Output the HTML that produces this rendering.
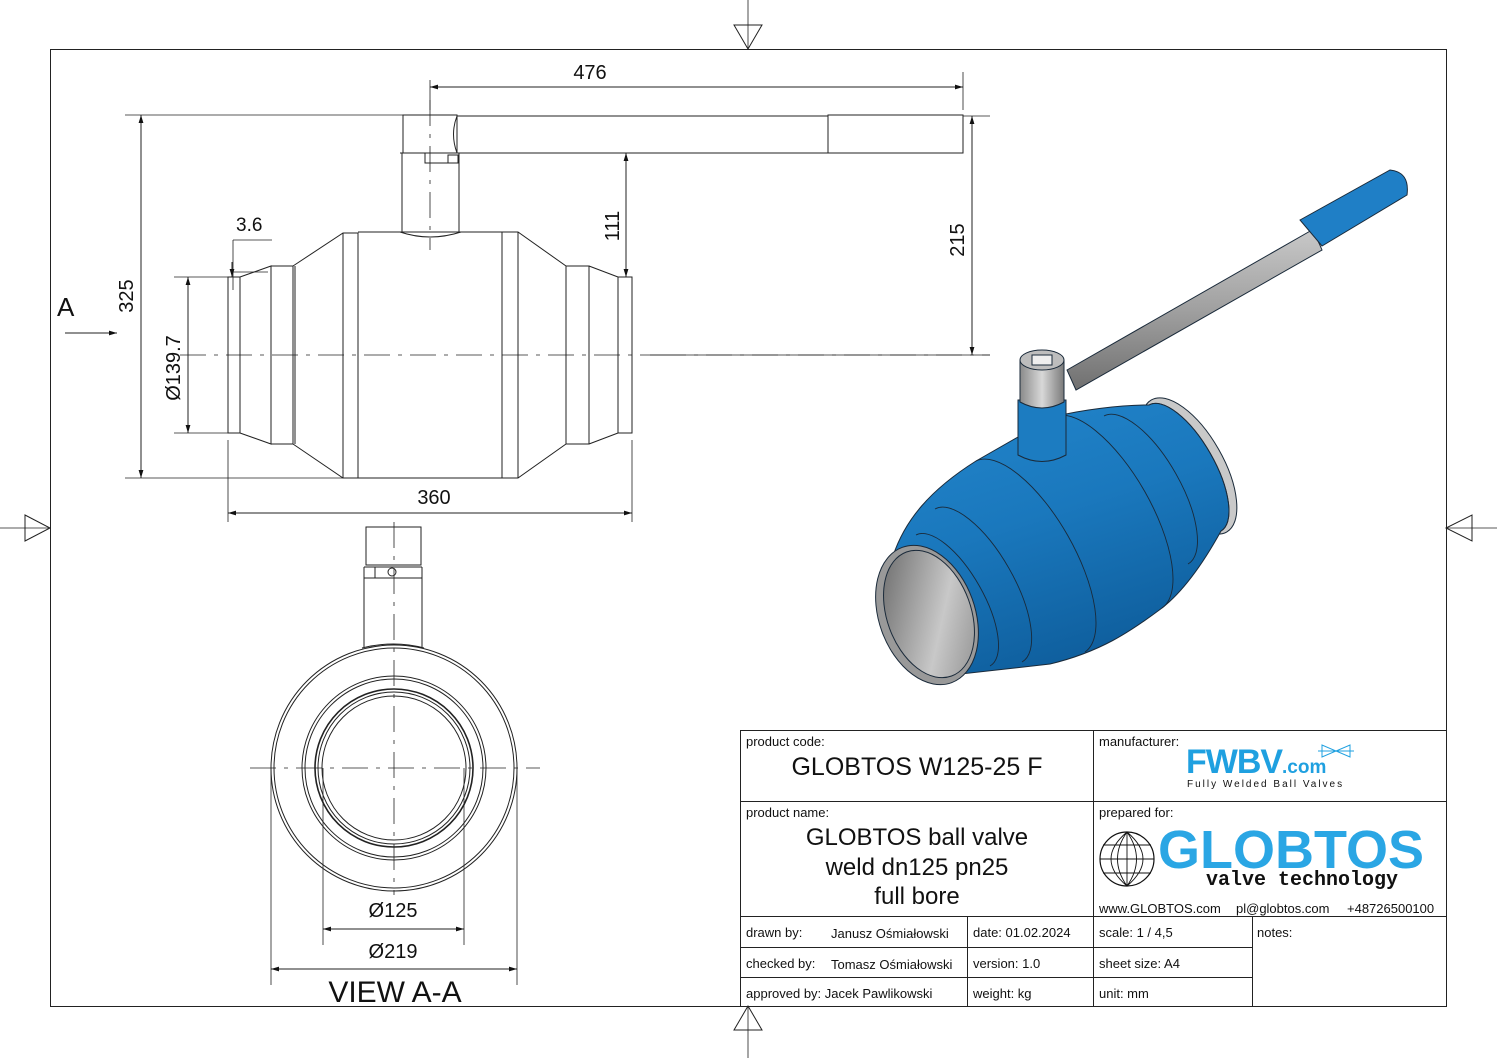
<!DOCTYPE html>
<html><head><meta charset="utf-8"><style>
html,body{margin:0;padding:0;background:#fff}
svg{display:block}
text{font-family:"Liberation Sans",sans-serif;fill:#111}
</style></head><body>
<svg width="1497" height="1058" viewBox="0 0 1497 1058" xmlns="http://www.w3.org/2000/svg">
<defs>
<linearGradient id="bl" x1="0" y1="0" x2="0.4" y2="1"><stop offset="0" stop-color="#2386cc"/><stop offset="0.5" stop-color="#1a78bd"/><stop offset="1" stop-color="#0f5f9e"/></linearGradient>
<linearGradient id="gr" x1="0" y1="0" x2="1" y2="0"><stop offset="0" stop-color="#8a8a8a"/><stop offset="0.5" stop-color="#d8d8d8"/><stop offset="1" stop-color="#7a7a7a"/></linearGradient>
<linearGradient id="gh" x1="0" y1="0" x2="0" y2="1"><stop offset="0" stop-color="#c8c8c8"/><stop offset="0.5" stop-color="#a0a0a0"/><stop offset="1" stop-color="#707070"/></linearGradient>
<linearGradient id="gi" x1="0" y1="0" x2="1" y2="1"><stop offset="0" stop-color="#606060"/><stop offset="0.6" stop-color="#c8c8c8"/><stop offset="1" stop-color="#888"/></linearGradient>
<marker id="a" viewBox="0 0 10 10" refX="10" refY="5" markerWidth="10" markerHeight="8" orient="auto-start-reverse" markerUnits="userSpaceOnUse"><path d="M0,2 L10,5 L0,8 Z" fill="#111"/></marker>
</defs>
<g fill="none" stroke="#222" stroke-width="1">
<rect x="50.5" y="49.5" width="1396" height="957"/>
<path d="M734,25 L762,25 L748,49 Z M734,1030 L762,1030 L748,1006 Z M25,515 L25,541 L50,528 Z M1472,515 L1472,541 L1446,528 Z"/>
<path d="M748,0 V49 M748,1006 V1058 M0,528 H50 M1446,528 H1497" stroke-width="0.8"/>

<path d="M228,277 H240 V433 H228 Z M240,277 L271,266 V444 L240,433 M271,266 H293 V444 H271 M293,266 L343,233 H358 V478 H343 L293,444 M358,232 H502 V478 H358 M502,232 H518 L566,266 V444 L518,478 H502 M518,232 V478 M566,266 H589 V444 H566 M589,266 L618,277 V433 L589,444 M618,277 H632 V433 H618 M343,233 V478 M295,266 V444"/>
<path d="M402,153 V232 M459,153 V232 M400,232 Q430,242 461,232 M400,153 H461 M425,153 V163 H457 M448,155 H458 V163 H448 Z"/>
<path d="M403,115 H457 V153 H403 Z M457,116 H828 M460,153 H828 M828,115 H963 V153 H828 Z M457,116 Q450,134 457,153"/>
<path d="M430,100 V250 M180,355 H660 M660,355 H990" stroke-dasharray="26,8,4,8" stroke-width="0.8"/>
<path d="M430,80 V110 M963,72 V110 M963,116 H990 M650,355 H990 M232,272 H268" stroke-width="0.8"/>
<line x1="430" y1="87" x2="963" y2="87" marker-start="url(#a)" marker-end="url(#a)"/>
<line x1="626" y1="153" x2="626" y2="277" marker-start="url(#a)" marker-end="url(#a)"/>
<path d="M628,153 H642" stroke-width="0.8"/>
<line x1="972" y1="116" x2="972" y2="355" marker-start="url(#a)" marker-end="url(#a)"/>
<path d="M125,115 H403 M125,478 H343" stroke-width="0.8"/>
<line x1="141" y1="115" x2="141" y2="478" marker-start="url(#a)" marker-end="url(#a)"/>
<path d="M174,277 H228 M174,433 H228" stroke-width="0.8"/>
<line x1="188" y1="277" x2="188" y2="433" marker-start="url(#a)" marker-end="url(#a)"/>
<path d="M228,440 V522 M632,440 V522" stroke-width="0.8"/>
<line x1="228" y1="513" x2="632" y2="513" marker-start="url(#a)" marker-end="url(#a)"/>
<path d="M233,240 H272 M233,240 V290" stroke-width="0.8"/>
<line x1="232" y1="262" x2="232" y2="277" marker-end="url(#a)"/>
<line x1="65" y1="333" x2="117" y2="333" marker-end="url(#a)"/>

<circle cx="394" cy="768" r="123"/><circle cx="394" cy="768" r="120"/>
<circle cx="394" cy="768" r="92"/><circle cx="394" cy="768" r="89"/>
<circle cx="394" cy="768" r="79" stroke-width="1.6"/><circle cx="394" cy="768" r="76"/><circle cx="394" cy="768" r="72"/>
<path d="M364,567 V648 M422,567 V648 M362,648 Q394,640 424,648 M366,527 H421 V565 H366 Z M364,567 H422 M375,567 V578 H392 M364,578 H422"/>
<circle cx="392" cy="572" r="4"/>
<path d="M394,522 V895 M250,768 H540" stroke-dasharray="26,8,4,8" stroke-width="0.8"/>
<path d="M323,768 V945 M464,768 V945 M271,768 V985 M517,768 V985" stroke-width="0.8"/>
<line x1="323" y1="929" x2="464" y2="929" marker-start="url(#a)" marker-end="url(#a)"/>
<line x1="271" y1="969" x2="517" y2="969" marker-start="url(#a)" marker-end="url(#a)"/>
</g>
<g font-size="20">
<text x="590" y="79" text-anchor="middle">476</text>
<text x="236" y="231" font-size="19">3.6</text>
<text x="434" y="504" text-anchor="middle">360</text>
<text transform="translate(619,226) rotate(-90)" text-anchor="middle">111</text>
<text transform="translate(964,240) rotate(-90)" text-anchor="middle">215</text>
<text transform="translate(133,296) rotate(-90)" text-anchor="middle">325</text>
<text transform="translate(180,368) rotate(-90)" text-anchor="middle">Ø139.7</text>
<text x="57" y="316" font-size="26">A</text>
<text x="393" y="917" text-anchor="middle">Ø125</text>
<text x="393" y="958" text-anchor="middle">Ø219</text>
<text x="395" y="1002" text-anchor="middle" font-size="30">VIEW A-A</text>
</g>

<g stroke="#1a2a3a" stroke-width="1">
<path d="M1067,370 L1312,230 Q1318,240 1322,250 L1076,390 Z" fill="url(#gh)"/>
<path d="M1300,220 L1390,170 Q1410,172 1407,195 L1322,246 Z" fill="#1f7fc6"/>
<ellipse cx="1189" cy="466" rx="76" ry="34" transform="rotate(60.3 1189 466)" fill="#c9c9c9"/>
<path d="M893,556 C905,520 930,490 976,461 L1053,417 C1080,410 1120,405 1149,405 A72 29 60.3 0 1 1221,531 C1205,560 1185,590 1162,608 C1130,632 1100,652 1050,664 L961,674 Z" fill="url(#bl)"/>
<g fill="none" stroke-width="0.9">
<path d="M1149,405 A72 29 60.3 0 1 1221,531"/>
<path d="M1104,416 A85 34 60.3 0 1 1188,564"/>
<path d="M1053,417 A110 44 60.3 0 1 1162,608"/>
<path d="M976,461 A110 44 60.3 0 1 1085,652"/>
<path d="M935,509 A88 35 60.3 0 1 1022,662"/>
<path d="M916,535 A75 30 60.3 0 1 990,666"/>
</g>
<path d="M1018,400 V455 Q1042,468 1066,455 V400 Z" fill="#1c7cc1"/>
<path d="M1020,360 V402 Q1042,414 1064,402 V360 Z" fill="url(#gr)"/>
<ellipse cx="1042" cy="360" rx="22" ry="10" fill="#bdbdbd"/>
<rect x="1032" y="355" width="20" height="10" fill="#eee"/>
<ellipse cx="927" cy="615" rx="48" ry="72" transform="rotate(-20 927 615)" fill="#999"/>
<ellipse cx="929" cy="614" rx="42" ry="66" transform="rotate(-20 929 614)" fill="url(#gi)"/>
</g>

<g fill="none" stroke="#222" stroke-width="1">
<rect x="740.5" y="730.5" width="706" height="276"/>
<path d="M740,801.5 H1446 M740,916.5 H1446 M740,947.5 H1252 M740,977.5 H1252 M1093.5,730 V1006 M967.5,916 V1006 M1252.5,916 V1006"/>
</g>
<g font-size="13">
<text x="746" y="746">product code:</text>
<text x="917" y="775" text-anchor="middle" font-size="25">GLOBTOS W125-25 F</text>
<text x="746" y="817">product name:</text>
<text x="917" y="845" text-anchor="middle" font-size="24">GLOBTOS ball valve</text>
<text x="917" y="875" text-anchor="middle" font-size="24">weld dn125 pn25</text>
<text x="917" y="904" text-anchor="middle" font-size="24">full bore</text>
<text x="1099" y="746">manufacturer:</text>
<text x="1099" y="817">prepared for:</text>
<text x="1099" y="913">www.GLOBTOS.com</text>
<text x="1236" y="913">pl@globtos.com</text>
<text x="1347" y="913">+48726500100</text>
<text x="746" y="937">drawn by:</text><text x="831" y="938">Janusz Ośmiałowski</text>
<text x="973" y="937">date: 01.02.2024</text>
<text x="1099" y="937">scale: 1 / 4,5</text>
<text x="1257" y="937">notes:</text>
<text x="746" y="968">checked by:</text><text x="831" y="969">Tomasz Ośmiałowski</text>
<text x="973" y="968">version:  1.0</text>
<text x="1099" y="968">sheet size:  A4</text>
<text x="746" y="998">approved by: Jacek Pawlikowski</text>
<text x="973" y="998">weight:  kg</text>
<text x="1099" y="998">unit:  mm</text>
</g>
<text x="1186" y="773" font-size="34" font-weight="bold" style="fill:#1fa0e0;letter-spacing:-1px">FWBV</text>
<text x="1282" y="773" font-size="19" font-weight="bold" style="fill:#1fa0e0">.com</text>
<path d="M1322,745 L1322,757 L1336,751 Z M1350,745 L1350,757 L1336,751 Z M1318,751 H1354" fill="none" stroke="#1fa0e0" stroke-width="1"/>
<text x="1187" y="787" font-size="10" style="letter-spacing:2px">Fully Welded Ball Valves</text>
<circle cx="1127" cy="859" r="27" fill="none" stroke="#111" stroke-width="1.2"/>
<path d="M1100,859 H1154 M1127,832 V886 M1103,845 H1151 M1103,873 H1151 M1127,832 Q1108,859 1127,886 M1127,832 Q1146,859 1127,886 M1127,832 Q1095,859 1127,886 M1127,832 Q1159,859 1127,886" fill="none" stroke="#111" stroke-width="0.9"/>
<text x="1158" y="868" font-size="54" font-weight="bold" style="fill:#2aa6e4;letter-spacing:0px">GLOBTOS</text>
<text x="1206" y="885" font-size="20" font-weight="bold" style="font-family:'Liberation Mono',monospace">valve technology</text>
</svg>
</body></html>
